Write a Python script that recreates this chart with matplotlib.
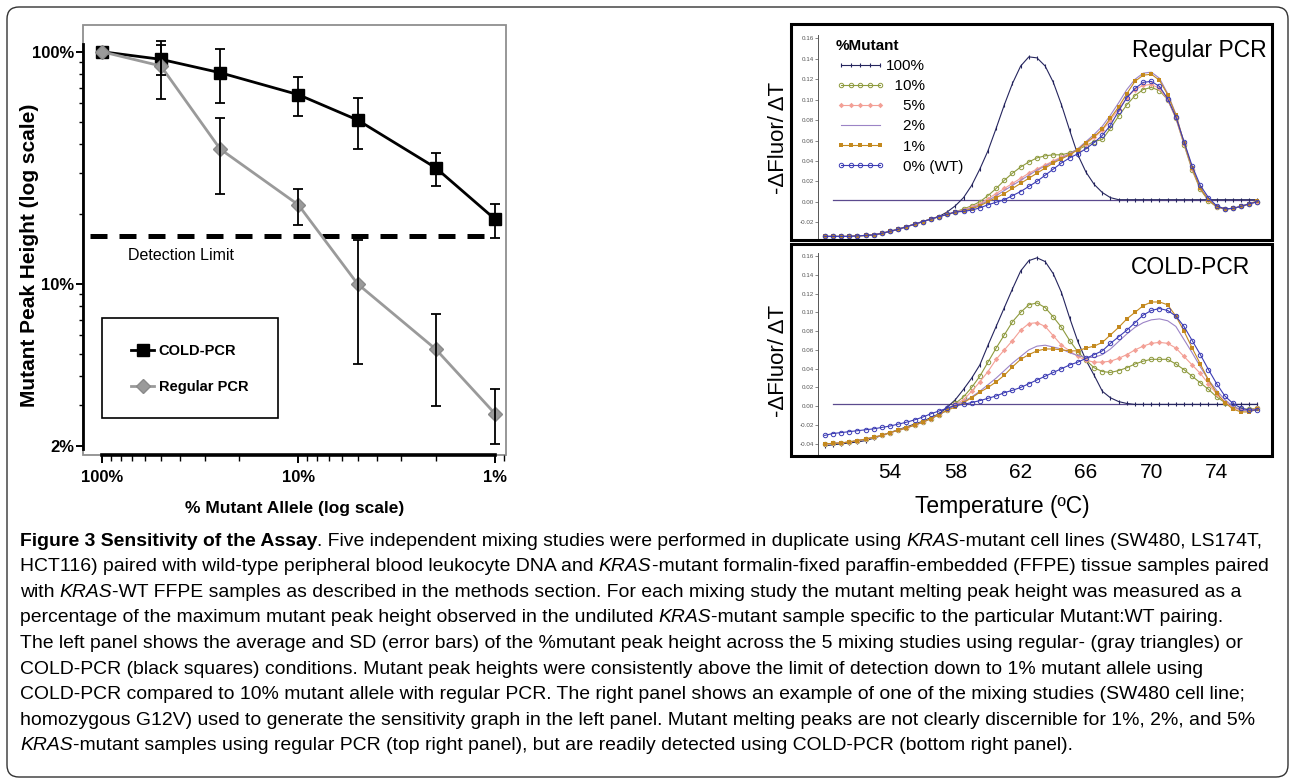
import numpy as np
import matplotlib
matplotlib.use("Agg")
import matplotlib.pyplot as plt
from matplotlib.patches import Rectangle, FancyBboxPatch
from matplotlib.transforms import IdentityTransform
from matplotlib.ticker import LogLocator, NullFormatter

plt.rcParams['font.family'] = ['Liberation Sans', 'DejaVu Sans']

# ---------------- data: left panel ----------------
allele_pct = [100, 50, 25, 10, 5, 2, 1]
cold_mean = [100, 92.7, 81.2, 65.3, 50.8, 31.6, 19.0]
cold_upper = [100, 111, 102.7, 78, 63, 36.5, 22.1]
cold_lower = [100, 79.1, 60, 53, 38.1, 26.4, 15.7]
reg_mean = [100, 86.8, 38.1, 21.9, 10.0, 5.23, 2.76]
reg_upper = [100, 106.9, 52, 25.6, 15.4, 7.45, 3.52]
reg_lower = [100, 62.3, 24.5, 18.0, 4.5, 2.99, 2.04]
detection_limit = 16.1
detection_span = [115, 1.07]
x_ticks = [100, 10, 1]
x_tick_labels = ['100%', '10%', '1%']
y_ticks = [2, 10, 100]
y_tick_labels = ['2%', '10%', '100%']
series_names = ['COLD-PCR', 'Regular PCR']

# ---------------- data: right panels (melt curves) ----------------
temps = [50.0, 50.5, 51.0, 51.5, 52.0, 52.5, 53.0, 53.5, 54.0, 54.5, 55.0, 55.5,
         56.0, 56.5, 57.0, 57.5, 58.0, 58.5, 59.0, 59.5, 60.0, 60.5, 61.0, 61.5,
         62.0, 62.5, 63.0, 63.5, 64.0, 64.5, 65.0, 65.5, 66.0, 66.5, 67.0, 67.5,
         68.0, 68.5, 69.0, 69.5, 70.0, 70.5, 71.0, 71.5, 72.0, 72.5, 73.0, 73.5,
         74.0, 74.5, 75.0, 75.5, 76.0, 76.5]
mutant_labels = ['100%', '10%', '5%', '2%', '1%', '0% (WT)']
legend_labels = ['100%', '  10%', '    5%', '    2%', '    1%', '    0% (WT)']

reg_base = [-0.034, -0.034, -0.034, -0.034, -0.0335, -0.033, -0.0325, -0.031, -0.029,
            -0.027, -0.0245, -0.022, -0.0195, -0.017, -0.0145, -0.0125, -0.010]
reg_100 = [-0.034, -0.034, -0.034, -0.034, -0.0335, -0.033, -0.0325, -0.031, -0.029,
           -0.027, -0.0245, -0.022, -0.0195, -0.017, -0.0145, -0.010, -0.004,
           0.004, 0.016, 0.032, 0.050, 0.072, 0.095, 0.116, 0.133, 0.142, 0.141,
           0.133, 0.117, 0.095, 0.070, 0.046, 0.029, 0.017, 0.009, 0.004, 0.002,
           0.002, 0.002, 0.002, 0.002, 0.002, 0.002, 0.002, 0.002, 0.002, 0.002,
           0.002, 0.002, 0.002, 0.002, 0.002, 0.002, 0.002]
reg_10 = reg_base + [-0.007, -0.004, 0.000, 0.006, 0.013, 0.021, 0.028, 0.034, 0.039,
                     0.043, 0.045, 0.046, 0.046,
                     0.048, 0.051, 0.055, 0.059, 0.061, 0.072, 0.084, 0.095, 0.104, 0.110, 0.112,
                     0.109, 0.100, 0.082, 0.056, 0.031, 0.012, 0.001, -0.005, -0.007,
                     -0.0065, -0.0045, -0.002, 0.000]
reg_5 = reg_base + [-0.008, -0.005, -0.002, 0.003, 0.008, 0.013, 0.018, 0.023, 0.028,
                    0.032, 0.036, 0.040, 0.044,
                    0.047, 0.051, 0.057, 0.063, 0.070, 0.080, 0.091, 0.102, 0.110, 0.114, 0.115,
                    0.111, 0.100, 0.082, 0.057, 0.032, 0.013, 0.002, -0.005, -0.007,
                    -0.0065, -0.0045, -0.002, 0.000]
reg_2 = reg_base + [-0.0085, -0.006, -0.003, 0.001, 0.006, 0.011, 0.016, 0.021, 0.026,
                    0.031, 0.035, 0.039, 0.043,
                    0.047, 0.052, 0.059, 0.066, 0.074, 0.085, 0.097, 0.110, 0.120, 0.126, 0.127,
                    0.121, 0.106, 0.086, 0.058, 0.033, 0.013, 0.002, -0.005, -0.007,
                    -0.0065, -0.0045, -0.002, 0.000]
reg_1 = reg_base + [-0.009, -0.007, -0.004, 0.000, 0.004, 0.008, 0.013, 0.018, 0.023,
                    0.028, 0.033, 0.038, 0.042,
                    0.046, 0.051, 0.058, 0.064, 0.071, 0.082, 0.093, 0.106, 0.118, 0.124, 0.125,
                    0.119, 0.105, 0.085, 0.058, 0.033, 0.013, 0.002, -0.005, -0.007,
                    -0.0065, -0.0045, -0.002, 0.001]
reg_0 = reg_base + [-0.0095, -0.0082, -0.006, -0.003, -0.0005, 0.002, 0.006, 0.010, 0.015,
                    0.020, 0.026, 0.032, 0.038,
                    0.043, 0.047, 0.052, 0.058, 0.065, 0.075, 0.089, 0.102, 0.111, 0.117, 0.118,
                    0.113, 0.101, 0.083, 0.059, 0.035, 0.016, 0.004, -0.004, -0.007,
                    -0.0065, -0.0045, -0.002, 0.000]

cold_base = [-0.040, -0.0395, -0.039, -0.038, -0.0365, -0.035, -0.033, -0.031, -0.028,
             -0.0255, -0.023, -0.020, -0.017, -0.013, -0.009, -0.004]
cold_100 = [-0.042, -0.041, -0.040, -0.039, -0.038, -0.0365, -0.034, -0.031, -0.028,
            -0.025, -0.022, -0.019, -0.016, -0.012, -0.008, -0.001,
            0.007, 0.018, 0.030, 0.044, 0.065, 0.085, 0.105, 0.125, 0.144, 0.155, 0.158,
            0.154, 0.141, 0.121, 0.094, 0.069, 0.049, 0.033, 0.016, 0.009, 0.005, 0.003,
            0.002, 0.002, 0.002, 0.002, 0.002, 0.002, 0.002, 0.002, 0.002, 0.002, 0.002,
            0.002, 0.002, 0.002, 0.002, 0.002]
cold_10 = cold_base + [0.003, 0.010, 0.020, 0.032, 0.047, 0.062, 0.076, 0.090, 0.100, 0.108,
                       0.110, 0.105, 0.095, 0.084, 0.070, 0.058, 0.049, 0.041, 0.037, 0.036,
                       0.038, 0.041, 0.045, 0.048, 0.050, 0.050, 0.050, 0.045, 0.039, 0.032,
                       0.025, 0.018, 0.010, 0.004, -0.001, -0.003, -0.003, -0.002]
cold_5 = cold_base + [0.002, 0.007, 0.016, 0.026, 0.037, 0.050, 0.060, 0.070, 0.081, 0.088,
                      0.089, 0.085, 0.075, 0.065, 0.059, 0.053, 0.049, 0.047, 0.047, 0.048,
                      0.051, 0.055, 0.060, 0.064, 0.067, 0.068, 0.067, 0.062, 0.053, 0.044,
                      0.035, 0.024, 0.013, 0.005, -0.002, -0.004, -0.004, -0.002]
cold_2 = cold_base + [0.001, 0.005, 0.010, 0.016, 0.023, 0.030, 0.038, 0.046, 0.053, 0.060,
                      0.064, 0.065, 0.063, 0.061, 0.057, 0.054, 0.052, 0.052, 0.055, 0.061,
                      0.069, 0.077, 0.084, 0.089, 0.092, 0.093, 0.091, 0.085, 0.071, 0.057,
                      0.042, 0.028, 0.017, 0.007, 0.000, -0.004, -0.005, -0.003]
cold_1 = cold_base + [-0.001, 0.004, 0.009, 0.015, 0.020, 0.026, 0.033, 0.042, 0.050, 0.055,
                      0.059, 0.061, 0.061, 0.060, 0.059, 0.059, 0.062, 0.064, 0.068, 0.076,
                      0.084, 0.093, 0.100, 0.107, 0.111, 0.111, 0.108, 0.096, 0.080, 0.062,
                      0.045, 0.028, 0.014, 0.004, -0.003, -0.006, -0.006, -0.003]
cold_0 = [-0.031, -0.029, -0.028, -0.027, -0.026, -0.025, -0.024, -0.0225, -0.021, -0.019,
          -0.017, -0.0145, -0.0115, -0.008, -0.005, -0.002, 0.001, 0.002, 0.004, 0.006,
          0.0085, 0.011, 0.0145, 0.017, 0.020, 0.024, 0.028, 0.032, 0.036, 0.040, 0.044,
          0.047, 0.051, 0.055, 0.059, 0.067, 0.074, 0.081, 0.089, 0.097, 0.102, 0.104,
          0.102, 0.096, 0.085, 0.070, 0.055, 0.039, 0.024, 0.011, 0.003, -0.002, -0.004,
          -0.004]
ntc_temps = [50.5, 76.5]
ntc_vals = [0.002, 0.002]

reg_ticks = [-0.02, 0.00, 0.02, 0.04, 0.06, 0.08, 0.10, 0.12, 0.14, 0.16]
cold_ticks = [-0.04, -0.02, 0.00, 0.02, 0.04, 0.06, 0.08, 0.10, 0.12, 0.14, 0.16]
temp_ticks = [54, 58, 62, 66, 70, 74]

caption_lines = [
    [("Figure 3 Sensitivity of the Assay", 'b'),
     (". Five independent mixing studies were performed in duplicate using ", 'n'),
     ("KRAS", 'i'), ("-mutant cell lines (SW480, LS174T,", 'n')],
    [("HCT116) paired with wild-type peripheral blood leukocyte DNA and ", 'n'),
     ("KRAS", 'i'), ("-mutant formalin-fixed paraffin-embedded (FFPE) tissue samples paired", 'n')],
    [("with ", 'n'), ("KRAS", 'i'),
     ("-WT FFPE samples as described in the methods section. For each mixing study the mutant melting peak height was measured as a", 'n')],
    [("percentage of the maximum mutant peak height observed in the undiluted ", 'n'),
     ("KRAS", 'i'), ("-mutant sample specific to the particular Mutant:WT pairing.", 'n')],
    [("The left panel shows the average and SD (error bars) of the %mutant peak height across the 5 mixing studies using regular- (gray triangles) or", 'n')],
    [("COLD-PCR (black squares) conditions. Mutant peak heights were consistently above the limit of detection down to 1% mutant allele using", 'n')],
    [("COLD-PCR compared to 10% mutant allele with regular PCR. The right panel shows an example of one of the mixing studies (SW480 cell line;", 'n')],
    [("homozygous G12V) used to generate the sensitivity graph in the left panel. Mutant melting peaks are not clearly discernible for 1%, 2%, and 5%", 'n')],
    [("KRAS", 'i'),
     ("-mutant samples using regular PCR (top right panel), but are readily detected using COLD-PCR (bottom right panel).", 'n')],
]

# ---------------- figure ----------------
W, H = 1290, 780
fig = plt.figure(figsize=(W / 100, H / 100), dpi=100)


def fx(px):
    return px / W


def fy(py):
    return 1 - py / H


# ---------------- left panel ----------------
axL = fig.add_axes([fx(83), fy(455), (506 - 83) / W, (455 - 25) / H])
axL.set_xscale('log')
axL.set_yscale('log')

cm = np.array(cold_mean)
rm = np.array(reg_mean)
cold_line, = axL.plot(allele_pct, cold_mean, color='black', lw=2.0, marker='s', ms=8.5,
                      zorder=3, label=series_names[0])
reg_line, = axL.plot(allele_pct, reg_mean, color='#9a9a9a', lw=2.0, marker='D', ms=7,
                     mfc='#9a9a9a', mec='#8a8a8a', zorder=4, label=series_names[1])
axL.errorbar(allele_pct[1:], cold_mean[1:],
             yerr=[cm[1:] - np.array(cold_lower[1:]), np.array(cold_upper[1:]) - cm[1:]],
             fmt='none', ecolor='black', elinewidth=1.3, capsize=3.5, capthick=1.3, zorder=5)
axL.errorbar(allele_pct[1:], reg_mean[1:],
             yerr=[rm[1:] - np.array(reg_lower[1:]), np.array(reg_upper[1:]) - rm[1:]],
             fmt='none', ecolor='black', elinewidth=1.3, capsize=3.5, capthick=1.3, zorder=5)
axL.plot(detection_span, [detection_limit, detection_limit], color='black', lw=3.6,
         linestyle=(0, (3.4, 2.4)), dash_capstyle='butt', zorder=2)

axL.set_xlim(124.5, 0.879)
axL.set_ylim(1.832, 130.3)

for s in ['top', 'right']:
    axL.spines[s].set_visible(False)
axL.spines['left'].set_color('black')
axL.spines['left'].set_linewidth(2.0)
axL.spines['left'].set_bounds(1.95, 108)
axL.spines['bottom'].set_color('black')
axL.spines['bottom'].set_linewidth(2.6)
axL.spines['bottom'].set_bounds(1, 100)
axL.add_patch(Rectangle((0, 0), 1, 1, transform=axL.transAxes, fill=False,
                        ec='#8f8f8f', lw=1.3, clip_on=False, zorder=0.5))

axL.set_xticks(x_ticks, labels=x_tick_labels, fontweight='bold', fontsize=12)
axL.set_yticks(y_ticks, labels=y_tick_labels, fontweight='bold', fontsize=12)
axL.xaxis.set_minor_locator(LogLocator(base=10, subs=[2, 3, 4, 5, 6, 7, 8, 9]))
axL.yaxis.set_minor_locator(LogLocator(base=10, subs=[2, 3, 4, 5, 6, 7, 8, 9]))
axL.xaxis.set_minor_formatter(NullFormatter())
axL.yaxis.set_minor_formatter(NullFormatter())
axL.tick_params(axis='x', which='major', direction='out', length=6, width=1.4, pad=5)
axL.tick_params(axis='x', which='minor', direction='out', length=4, width=1.0)
axL.tick_params(axis='y', which='major', direction='out', length=5, width=1.4, pad=1.5)
axL.tick_params(axis='y', which='minor', direction='out', length=3, width=1.0)

fig.text(fx(30), fy(255), 'Mutant Peak Height (log scale)', rotation=90, ha='center',
         va='center', fontsize=15, fontweight='bold')
fig.text(fx(295), fy(509), '% Mutant Allele (log scale)', ha='center', va='center',
         fontsize=12.5, fontweight='bold')
fig.text(fx(128), fy(256), 'Detection Limit', ha='left', va='center', fontsize=11.5)

fig.add_artist(Rectangle((fx(102), fy(418)), (278 - 102) / W, (418 - 318) / H,
                         transform=fig.transFigure, fill=False, ec='black', lw=1.2))
fig.legend(handles=[cold_line, reg_line], labels=series_names, loc='center left',
           bbox_to_anchor=(fx(131), fy(369)), frameon=False, handlelength=1.6,
           handletextpad=0.3, labelspacing=1.55, prop={'weight': 'bold', 'size': 10.5},
           borderpad=0, borderaxespad=0, numpoints=1)

# ---------------- right panels ----------------
styles = [
    dict(color='#25255e', marker='|', ms=3.5, mew=0.8),
    dict(color='#8e9a3e', marker='o', ms=3.2, mfc='none', mew=0.7),
    dict(color='#f3a096', marker='D', ms=2.8, mew=0),
    dict(color='#9c84c6', marker=None),
    dict(color='#c4891e', marker='s', ms=3.0, mew=0),
    dict(color='#3c3cb4', marker='o', ms=3.2, mfc='none', mew=0.7),
]

xl = (47.92, 77.37)
axT = fig.add_axes([fx(790.7), fy(240), (1271.7 - 790.7) / W, (240 - 24) / H])
axB = fig.add_axes([fx(790.7), fy(456), (1271.7 - 790.7) / W, (456 - 244) / H])

panels = [
    (axT, [reg_100, reg_10, reg_5, reg_2, reg_1, reg_0], (-0.0375, 0.1742), reg_ticks),
    (axB, [cold_100, cold_10, cold_5, cold_2, cold_1, cold_0], (-0.0529, 0.1727), cold_ticks),
]
top_handles = []
for ax, curves, yl, yt in panels:
    ax.plot(ntc_temps, ntc_vals, color='#5b4a8e', lw=0.9, zorder=1)
    for i, (vals, st) in enumerate(zip(curves, styles)):
        ln, = ax.plot(temps, vals, lw=0.8, zorder=2 + i * 0.1, **st)
        if ax is axT:
            top_handles.append(ln)
    ax.set_xlim(*xl)
    ax.set_ylim(*yl)
    for s in ['top', 'right', 'bottom']:
        ax.spines[s].set_visible(False)
    ax.spines['left'].set_position(('data', 49.59))
    ax.spines['left'].set_bounds(yl[0], 0.163)
    ax.spines['left'].set_linewidth(0.7)
    ax.spines['left'].set_color('#555555')
    ax.add_patch(Rectangle((0, 0), 1, 1, transform=ax.transAxes, fill=False, ec='black',
                           lw=2.2, clip_on=False, zorder=6))
    ax.set_yticks(yt, labels=['%.2f' % v for v in yt], fontsize=4.5, color='#555555')
    ax.tick_params(axis='y', length=2, width=0.5, pad=1, colors='#555555')

axT.set_xticks([])
axB.set_xticks(temp_ticks, labels=[str(t) for t in temp_ticks], fontsize=15)
axB.tick_params(axis='x', length=0, pad=5)

axT.legend(handles=top_handles, labels=legend_labels, loc='upper left',
           bbox_to_anchor=(fx(836), fy(39)), bbox_transform=fig.transFigure,
           frameon=False, title='%Mutant', title_fontproperties={'weight': 'bold', 'size': 11},
           alignment='left', fontsize=11, handlelength=3.2, handletextpad=0.05,
           labelspacing=0.4, borderpad=0, borderaxespad=0, numpoints=5)

fig.text(fx(1267), fy(50), 'Regular PCR', ha='right', va='center', fontsize=16.5)
fig.text(fx(1250), fy(268), 'COLD-PCR', ha='right', va='center', fontsize=16.5)
fig.text(fx(778), fy(138), '-ΔFluor/ ΔT', rotation=90, ha='center', va='center', fontsize=16)
fig.text(fx(778), fy(361), '-ΔFluor/ ΔT', rotation=90, ha='center', va='center', fontsize=16)
fig.text(fx(1002), fy(507), 'Temperature (ºC)', ha='center', va='center', fontsize=16.5)

# ---------------- outer rounded border ----------------
fig.add_artist(FancyBboxPatch((7, 3), 1281, 770, boxstyle='round,pad=0,rounding_size=12',
                              transform=IdentityTransform(), fill=False, ec='#333333', lw=1.0))

# ---------------- caption ----------------
renderer = fig.canvas.get_renderer()
cap_font = 'Liberation Sans'
kinds = {'n': ('normal', 'normal'), 'b': ('bold', 'normal'), 'i': ('normal', 'italic')}


def seg_width(s, size, kind):
    wt, st = kinds[kind]
    t1 = fig.text(0, 0, s + '|', fontsize=size, fontweight=wt, fontstyle=st, family=cap_font)
    t2 = fig.text(0, 0, '|', fontsize=size, fontweight=wt, fontstyle=st, family=cap_font)
    w = t1.get_window_extent(renderer).width - t2.get_window_extent(renderer).width
    t1.remove()
    t2.remove()
    return w


w_ref = sum(seg_width(s, 10, k) for s, k in caption_lines[0])
cap_size = 10 * 1246 / w_ref

for li, line in enumerate(caption_lines):
    x = 20
    y = 541 + li * 25.6
    for s, k in line:
        wt, st = kinds[k]
        fig.text(fx(x), fy(y), s, fontsize=cap_size, fontweight=wt, fontstyle=st,
                 family=cap_font, ha='left', va='center')
        x += seg_width(s, cap_size, k)

fig.savefig('out.png', dpi=100)
